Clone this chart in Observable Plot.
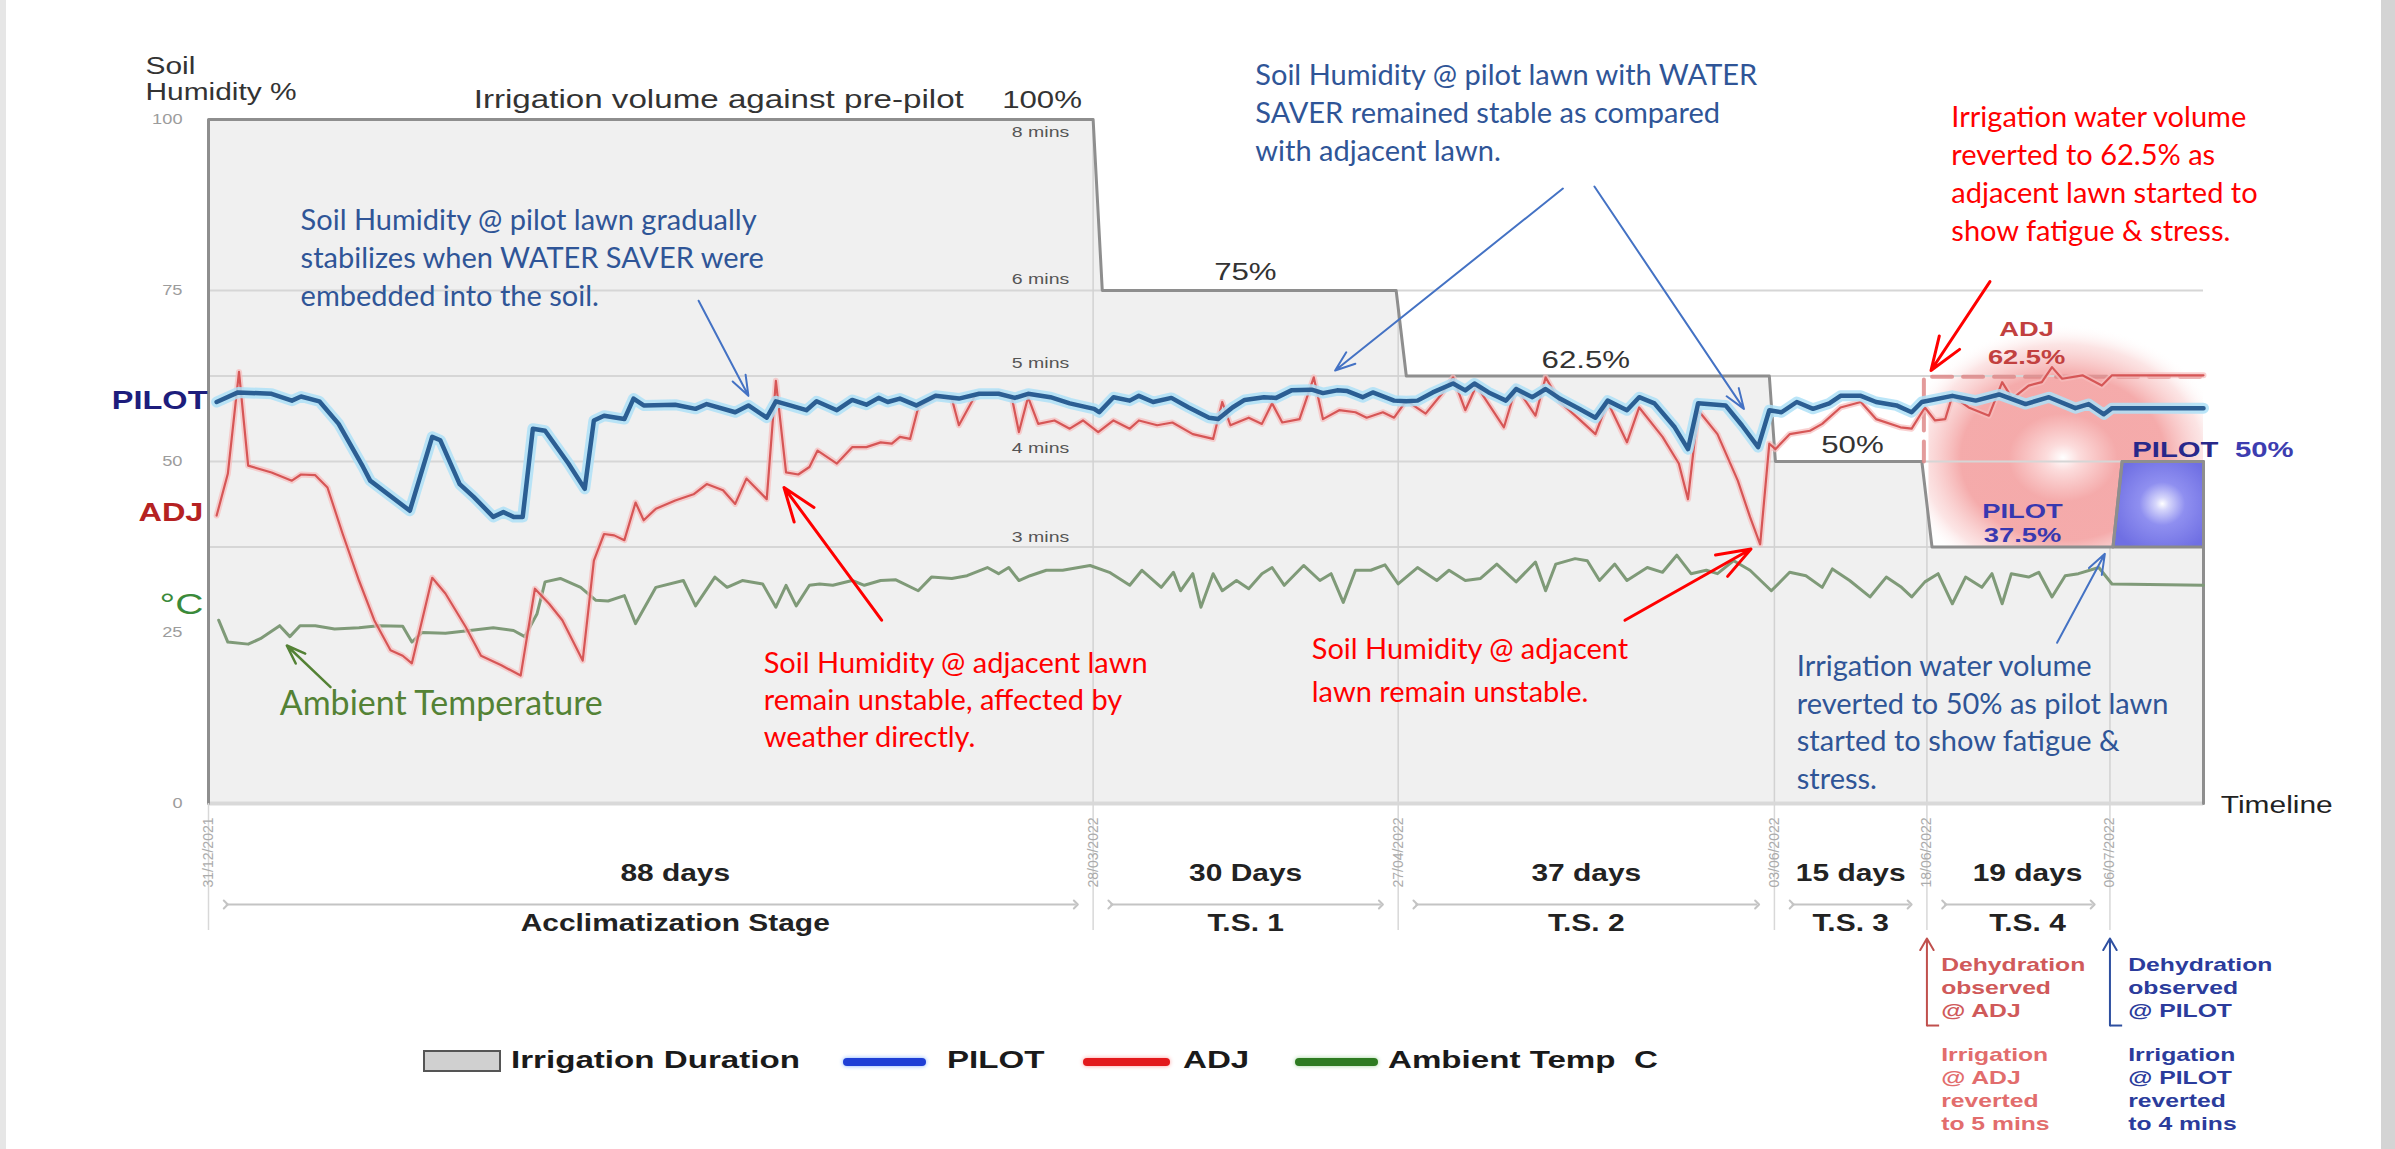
<!DOCTYPE html>
<html>
<head>
<meta charset="utf-8">
<script src="https://cdn.jsdelivr.net/npm/d3@7"></script>
<script src="https://cdn.jsdelivr.net/npm/@observablehq/plot@0.6"></script>
<style>
  html, body { margin: 0; padding: 0; background: #fff; }
  #wrap { position: relative; width: 2395px; height: 1149px; background: #fff; overflow: hidden;
          font-family: "Liberation Sans", Arial, sans-serif; }
  #edgeR { position: absolute; left: 2381px; top: 0; width: 14px; height: 1149px; background: #d4d4d4; }
  #edgeL { position: absolute; left: 0; top: 0; width: 6px; height: 1149px; background: #e6e6e6; }
  #chart { position: absolute; left: 0; top: 0; }
  .lg { position: absolute; top: 1046px; height: 28px; line-height: 28px; font-size: 24px; font-weight: bold;
        color: #1a1a1a; white-space: nowrap; transform: scaleX(1.38); transform-origin: left center; }
  .sw { position: absolute; }
</style>
</head>
<body>
<div id="wrap">
  <div id="edgeL"></div>
  <div id="chart"></div>
  <div class="sw" style="left:423px;top:1050px;width:78px;height:22px;background:#d0d0d0;border:2px solid #555;box-sizing:border-box;"></div>
  <div class="lg" style="left:511px;">Irrigation Duration</div>
  <div class="sw" style="left:843px;top:1058px;width:83px;height:8px;border-radius:4px;background:#1f3fd6;box-shadow:0 0 4px #7fb0ff;"></div>
  <div class="lg" style="left:947px;">PILOT</div>
  <div class="sw" style="left:1083px;top:1058px;width:87px;height:8px;border-radius:4px;background:#e3191c;box-shadow:0 0 4px #ff9a9a;"></div>
  <div class="lg" style="left:1183px;">ADJ</div>
  <div class="sw" style="left:1295px;top:1058px;width:83px;height:8px;border-radius:4px;background:#2e7b21;box-shadow:0 0 4px #9fd49a;"></div>
  <div class="lg" style="left:1388px;">Ambient Temp&nbsp; C</div>
  <div id="edgeR"></div>
</div>
<script>
// ---------------- DATA ----------------
// x = days since 31/12/2021, y = soil humidity % (temperature in °C on the same axis)
const tickDays   = [0, 87, 117, 154, 169, 187];
const tickLabels = ["31/12/2021", "28/03/2022", "27/04/2022", "03/06/2022", "18/06/2022", "06/07/2022"];
const yTicks = [0, 25, 50, 75, 100];
const gridPct = [75, 62.5, 50, 37.5];

// Irrigation duration step (outline)
const irrDay = [0, 0, 87, 87.9, 116.8, 117.8, 153.5, 154.1, 168.5, 169.5, 187.3, 188.2, 196.2, 196.2];
const irrPct = [0, 100, 100, 75, 75, 62.5, 62.5, 50, 50, 37.5, 37.5, 50, 50, 0];
// Pilot reverted-to-50% box
const boxDay = [187.3, 188.2, 196.2, 196.2, 187.3];
const boxPct = [37.5, 50, 50, 37.5, 37.5];
// ADJ reverted to 62.5% (dashed)
const adjIrrDay = [168.7, 168.7, 196.2];
const adjIrrPct = [50, 62.4, 62.4];

const pilotDay = [0.8,2.9,6.2,8.2,9.1,10.9,12.8,15.2,15.9,19.8,22.0,22.8,24.7,26.1,28.0,29.0,30.0,30.9,31.9,33.1,35.4,37.0,37.9,38.9,40.9,41.8,42.8,45.9,47.9,49.0,51.8,53.1,54.9,55.8,57.2,58.8,59.8,61.8,63.3,64.7,65.9,66.8,68.0,69.6,71.5,73.8,75.8,77.7,79.3,80.6,82.8,84.7,87.1,87.6,89.0,90.6,91.5,92.9,94.7,96.4,98.4,99.3,100.7,101.9,103.8,105.0,106.5,108.5,109.6,111.0,112.0,113.5,114.5,116.6,117.8,118.9,120.4,122.4,123.6,124.5,125.9,127.6,128.6,130.2,131.5,132.9,134.8,136.4,137.6,139.5,140.7,142.2,144.2,145.5,146.5,149.2,150.8,152.4,153.5,154.7,156.2,157.8,159.4,160.5,162.5,164.0,166.0,167.5,168.5,171.5,173.8,176.1,178.7,181.0,183.6,184.9,186.4,187.2,196.2];
const pilotVal = [58.7,60.1,59.9,58.9,59.5,58.8,55.5,49.2,47.2,42.8,53.6,53.1,46.7,44.8,41.9,42.6,41.9,41.9,54.8,54.5,49.7,46.0,56.0,56.7,56.2,59.2,58.2,58.3,57.7,58.4,57.2,58.2,56.4,58.8,58.2,57.5,58.8,57.5,59.0,58.3,59.3,58.7,59.2,58.2,59.6,59.2,59.9,59.9,59.3,59.9,59.4,58.5,57.7,57.2,59.4,58.9,59.6,58.7,59.3,57.9,56.4,56.2,57.9,59.0,59.4,59.3,60.4,60.5,60.0,60.4,60.3,59.4,60.1,58.9,58.8,58.9,60.1,61.4,60.4,61.4,60.1,58.9,60.6,59.4,60.6,59.2,57.7,56.4,58.9,57.5,59.4,58.5,55.0,51.8,58.5,58.2,55.3,52.1,57.5,57.2,58.7,57.7,58.5,59.6,59.6,58.7,58.2,57.2,58.7,59.6,58.9,59.8,58.4,59.4,57.8,58.4,56.9,57.8,57.8];

const adjDay = [0.8,1.9,3.0,3.9,6.2,8.2,9.1,10.5,11.7,13.2,14.8,16.3,17.9,19.1,20.0,22.0,23.3,25.3,26.8,28.8,30.7,32.1,33.5,34.8,36.8,37.9,38.9,39.9,40.9,42.0,42.8,44.0,45.9,47.7,49.0,50.6,51.8,52.9,54.9,55.8,56.8,58.0,59.1,59.9,61.8,63.3,64.7,66.1,67.2,68.0,69.0,69.8,71.5,73.1,73.8,75.5,77.7,79.0,79.7,80.6,81.6,83.2,84.7,86.0,87.5,89.0,90.6,91.5,93.3,94.8,96.8,98.8,99.7,100.5,102.3,103.6,104.6,105.6,107.3,108.7,109.6,111.2,112.8,113.9,115.5,116.6,117.8,119.7,121.3,122.4,123.6,124.7,127.4,128.6,130.5,131.5,132.9,134.8,136.4,137.6,139.5,140.7,143.0,144.6,145.5,146.5,148.4,150.4,151.6,152.6,153.5,154.1,155.5,157.5,158.7,160.5,162.5,164.0,166.4,167.5,168.8,169.8,170.8,171.5,173.1,175.1,176.4,177.4,179.0,180.3,181.3,182.3,184.3,186.2,187.2,196.2];
const adjVal = [42.1,48.2,63.1,49.4,48.4,47.2,48.1,48.0,46.2,39.4,32.6,26.8,22.4,21.6,20.5,33.0,30.7,25.8,21.6,20.2,18.7,31.4,29.2,26.8,20.9,35.5,39.4,39.2,38.5,44.0,41.4,43.1,44.3,45.2,46.7,45.8,43.8,47.5,44.5,61.8,48.4,48.1,49.2,51.6,49.7,52.1,52.1,52.8,52.6,53.6,53.3,57.9,59.5,59.2,55.3,59.9,60.1,59.4,54.3,59.4,55.5,56.0,54.8,56.0,54.3,56.0,54.8,56.0,55.3,55.7,54.0,53.3,58.7,55.3,56.4,55.5,58.5,55.7,56.2,62.3,56.2,57.5,57.2,56.4,57.2,56.4,58.9,57.0,59.9,62.3,57.5,61.1,55.0,60.9,56.7,62.3,58.7,56.2,54.0,58.7,52.8,57.9,53.6,49.7,44.5,57.5,54.0,47.2,41.9,37.9,52.6,51.8,54.0,54.5,55.5,57.9,58.7,56.2,55.0,54.8,57.9,56.0,56.2,59.6,57.9,56.7,61.6,59.2,61.1,61.6,63.8,62.1,62.6,61.1,62.6,62.6];

const tempDay = [1.0,1.9,3.9,5.1,7.0,8.0,9.0,10.5,12.4,14.8,16.7,19.1,20.0,21.0,23.3,25.7,28.0,30.0,31.1,32.3,33.1,34.6,36.6,38.1,39.3,40.9,42.0,44.0,46.7,47.9,49.8,51.0,52.5,54.5,55.8,56.8,57.8,59.1,60.1,61.4,63.3,64.5,66.1,67.6,69.8,71.1,73.1,74.6,76.6,77.7,78.7,79.7,80.8,82.4,84.0,86.7,88.6,90.6,91.8,93.7,94.9,95.6,96.8,97.6,98.8,99.7,101.1,102.3,103.6,104.6,105.8,107.7,109.3,110.4,111.6,112.8,114.3,115.7,117.0,118.9,120.8,122.0,123.6,125.1,126.7,128.6,130.5,131.5,132.5,134.4,135.6,136.8,138.3,139.5,141.5,143.0,144.4,145.8,147.3,148.4,150.0,151.6,153.7,155.5,157.1,158.7,159.7,161.4,163.4,165.0,166.5,167.5,168.8,170.1,171.5,172.8,174.4,175.4,176.4,177.3,179.0,180.0,181.3,182.6,183.9,185.9,187.2,196.2];
const tempVal = [26.8,23.6,23.3,24.1,26.0,24.4,26.0,26.0,25.5,25.7,26.0,25.9,23.6,25.0,24.9,25.3,25.7,25.3,24.4,27.7,32.4,32.9,31.6,29.7,29.6,30.4,26.3,31.6,32.6,28.9,33.1,31.6,32.6,32.1,28.7,31.9,28.9,31.9,32.1,31.9,32.6,31.9,32.6,32.7,31.1,33.1,32.9,33.3,34.5,33.6,34.5,32.6,33.3,34.1,34.1,34.8,33.8,31.9,34.1,31.6,33.8,31.1,33.6,28.7,33.6,31.1,32.6,31.4,33.6,34.5,31.9,34.8,32.6,33.6,29.4,34.1,34.1,34.9,32.1,34.5,32.6,34.1,32.6,32.9,35.0,32.4,35.3,31.1,35.0,35.8,35.5,32.6,35.0,32.6,34.5,33.8,36.3,33.6,34.1,33.6,35.5,34.1,31.1,33.8,33.3,31.6,34.3,32.6,30.2,33.1,31.6,30.2,32.4,33.6,29.2,33.1,31.6,33.6,29.2,33.6,33.1,33.8,30.2,33.3,33.6,34.5,32.1,31.9];

// Period labels (below the time axis)
const periodStart = [0, 87, 117, 154, 169];
const periodEnd   = [87, 117, 154, 169, 187];
const periodMid   = [45.9, 102, 135.5, 161.5, 178.9];
const periodDays  = ["88 days", "30 Days", "37 days", "15 days", "19 days"];
const periodStage = ["Acclimatization Stage", "T.S. 1", "T.S. 2", "T.S. 3", "T.S. 4"];

// Duration labels inside the chart
const minsLabels = ["8 mins", "6 mins", "5 mins", "4 mins", "3 mins"];
const minsPos    = [97.4, 76.0, 63.6, 51.2, 38.2];
const volLabels  = ["100%", "75%", "62.5%", "50%"];
const volDay     = [78.05, 98.9, 131.1, 158.6];
const volPos     = [101.75, 76.5, 63.7, 51.2];

// ---------------- BUILD ----------------
const rows = (xs, ys) => xs.map((d, i) => ({d, v: ys[i]}));
const irr = rows(irrDay, irrPct);
const box = rows(boxDay, boxPct);
const boxFill = rows(boxDay.slice(0, 3), boxPct.slice(0, 3));
const adjIrr = rows(adjIrrDay, adjIrrPct);
const pilot = rows(pilotDay, pilotVal);
const adj = rows(adjDay, adjVal);
const temp = rows(tempDay, tempVal);

function stepAt(day) {
  for (let i = 1; i < irr.length; i++) {
    const a = irr[i - 1], b = irr[i];
    if (day >= a.d && day <= b.d && b.d > a.d) return a.v + (b.v - a.v) * (day - a.d) / (b.d - a.d);
  }
  return 0;
}
const glow = [{x1: 169.2, x2: 196.2, y1: 37.5, y2: 70}];

const ARIAL = "'Liberation Sans', Arial, sans-serif";
const LATO = "Lato, 'Open Sans', sans-serif";

const callouts = [
  {d: 9.06,  v: 72.8, t: "Soil Humidity @ pilot lawn gradually\nstabilizes when WATER SAVER were\nembedded into the soil.", c: "#2f5597", lh: 1.31},
  {d: 102.95, v: 94.0, t: "Soil Humidity @ pilot lawn with WATER\nSAVER remained stable as compared\nwith adjacent lawn.", c: "#2f5597", lh: 1.31},
  {d: 171.4, v: 82.3, t: "Irrigation water volume\nreverted to 62.5% as\nadjacent lawn started to\nshow fatigue & stress.", c: "#ff0000", lh: 1.31},
  {d: 54.6,  v: 8.2,  t: "Soil Humidity @ adjacent lawn\nremain unstable, affected by\nweather directly.", c: "#ff0000", lh: 1.29},
  {d: 108.5, v: 14.8, t: "Soil Humidity @ adjacent\nlawn remain unstable.", c: "#ff0000", lh: 1.49},
  {d: 156.2, v: 2.05, t: "Irrigation water volume\nreverted to 50% as pilot lawn\nstarted to show fatigue &\nstress.", c: "#2f5597", lh: 1.31}
];
const blueArrows = [
  {x1: 48.2, y1: 73.5, x2: 53.1, y2: 59.6},
  {x1: 133.2, y1: 89.9, x2: 110.8, y2: 63.3},
  {x1: 136.3, y1: 90.2, x2: 151.0, y2: 57.7},
  {x1: 181.8, y1: 23.5, x2: 186.5, y2: 36.5}
];
const redArrows = [
  {x1: 66.2, y1: 26.8, x2: 56.6, y2: 46.2},
  {x1: 139.3, y1: 26.8, x2: 151.7, y2: 37.2},
  {x1: 175.2, y1: 76.3, x2: 169.4, y2: 63.3}
];
const greenArrows = [{x1: 12.0, y1: 17.0, x2: 7.7, y2: 23.1}];

const spans = periodStart.map((s, i) => ({x1: s + 1.7, x2: periodEnd[i] - 1.7}));
const periods = periodMid.map((m, i) => ({d: m, days: periodDays[i], stage: periodStage[i]}));

const T = (data, o) => Plot.text(data, Object.assign({lineAnchor: "bottom", fontFamily: ARIAL}, o));

const chart = Plot.plot({
  width: 2395, height: 1149,
  marginLeft: 208, marginRight: 192, marginTop: 119, marginBottom: 346,
  x: {domain: [0, 196.2]},
  y: {domain: [0, 100]},
  style: {background: "transparent", fontFamily: ARIAL, overflow: "visible"},
  marks: [
    Plot.areaY(irr, {x: "d", y: "v", fill: "#f0f0f0"}),
    Plot.rect(glow, {x1: "x1", x2: "x2", y1: "y1", y2: "y2", fill: "url(#pinkglow)"}),
    Plot.ruleY(gridPct, {x1: 0, x2: 196.2, stroke: "#d6d6d6", strokeWidth: 2}),
    Plot.ruleX(tickDays.slice(1), {y1: 0, y2: d => stepAt(d), stroke: "#d2d2d2", strokeWidth: 1.5}),
    Plot.ruleY([0], {x1: 0, x2: 196.2, stroke: "#d9d9d9", strokeWidth: 4}),
    Plot.areaY(boxFill, {x: "d", y1: 37.5, y2: "v", fill: "url(#bluebox)"}),
    Plot.line(box, {x: "d", y: "v", stroke: "#8a8a8a", strokeWidth: 3}),
    Plot.line(irr, {x: "d", y: "v", stroke: "#8e8e8e", strokeWidth: 3}),
    Plot.line(adjIrr, {x: "d", y: "v", stroke: "#de8a8a", strokeWidth: 4, strokeDasharray: "20,11", strokeOpacity: 0.85}),
    Plot.line(temp, {x: "d", y: "v", stroke: "#7f9a78", strokeWidth: 3}),
    Plot.line(adj, {x: "d", y: "v", stroke: "#f6bcbc", strokeWidth: 6, strokeOpacity: 0.7}),
    Plot.line(adj, {x: "d", y: "v", stroke: "#d65656", strokeWidth: 2.2}),
    Plot.line(pilot, {x: "d", y: "v", stroke: "#aee0f7", strokeWidth: 11, strokeOpacity: 0.85}),
    Plot.line(pilot, {x: "d", y: "v", stroke: "#2b5e93", strokeWidth: 4.5}),

    // axes
    Plot.axisY(yTicks, {tickSize: 0, tickPadding: 26, fontSize: 14, fill: "#9c9c9c", label: null}),
    Plot.axisX(tickDays, {tickSize: 127, tickFormat: () => "", stroke: "#d8d8d8", strokeWidth: 1.5, label: null}),
    Plot.axisX(tickDays, {tickSize: 0, tickPadding: 14, tickRotate: -90, fontSize: 14, fill: "#ababab", label: null,
                          tickFormat: d => tickLabels[tickDays.indexOf(d)]}),

    // axis titles and side labels
    T(["Soil\nHumidity %"], {x: -6.2, y: 102.78, text: d => d, textAnchor: "start", fontSize: 23, fill: "#333", lineHeight: 1.17}),
    T(["Irrigation volume against pre-pilot"], {x: 26.08, y: 101.75, text: d => d, textAnchor: "start", fontSize: 25.5, fill: "#333"}),
    T(volLabels, {x: (d, i) => volDay[i], y: (d, i) => volPos[i], text: d => d, textAnchor: "start", fontSize: 24, fill: "#333"}),
    T(minsLabels, {x: 84.65, y: (d, i) => minsPos[i], text: d => d, textAnchor: "end", fontSize: 15, fill: "#555"}),
    T(["PILOT"], {x: -0.1, y: 58.8, text: d => d, textAnchor: "end", lineAnchor: "middle", fontSize: 25, fontWeight: "bold", fill: "#1d1d7c"}),
    T(["ADJ"], {x: -0.5, y: 42.4, text: d => d, textAnchor: "end", lineAnchor: "middle", fontSize: 25, fontWeight: "bold", fill: "#b52222"}),
    T(["°C"], {x: -0.5, y: 29.1, text: d => d, textAnchor: "end", lineAnchor: "middle", fontSize: 30, fill: "#3a8a3a"}),
    T(["Timeline"], {x: 197.9, y: -1.46, text: d => d, textAnchor: "start", fontSize: 23, fill: "#222"}),

    // stage labels
    T(["ADJ\n62.5%"], {x: 178.8, y: 64.3, text: d => d, textAnchor: "middle", fontSize: 21, fontWeight: "bold", fill: "#c2403f", lineHeight: 1.33}),
    T(["PILOT\n37.5%"], {x: 178.4, y: 38.2, text: d => d, textAnchor: "middle", fontSize: 21, fontWeight: "bold", fill: "#3838b0", lineHeight: 1.14}),
    T(["PILOT"], {x: 189.2, y: 50.6, text: d => d, textAnchor: "start", fontSize: 22.5, fontWeight: "bold", fill: "#28288a"}),
    T(["50%"], {x: 199.3, y: 50.6, text: d => d, textAnchor: "start", fontSize: 22.5, fontWeight: "bold", fill: "#3d3db0"}),

    // period labels below the axis
    Plot.link(spans, {x1: "x1", x2: "x2", y1: -14.77, y2: -14.77, stroke: "#c4c4c4", strokeWidth: 2, markerStart: "arrow", markerEnd: "arrow"}),
    T(periods, {x: "d", y: -11.26, text: "days", textAnchor: "middle", fontSize: 23, fontWeight: "bold", fill: "#222"}),
    T(periods, {x: "d", y: -18.57, text: "stage", textAnchor: "middle", fontSize: 23, fontWeight: "bold", fill: "#222"}),

    // dehydration notes
    Plot.arrow([{x: 169}], {x1: "x", x2: "x", y1: -32.46, y2: -19.74, stroke: "#c0504d", strokeWidth: 2, headLength: 10}),
    Plot.link([{x: 169}], {x1: "x", x2: d => d.x + 1.2, y1: -32.46, y2: -32.46, stroke: "#c0504d", strokeWidth: 2}),
    Plot.arrow([{x: 187}], {x1: "x", x2: "x", y1: -32.46, y2: -19.74, stroke: "#2e4fa0", strokeWidth: 2, headLength: 10}),
    Plot.link([{x: 187}], {x1: "x", x2: d => d.x + 1.2, y1: -32.46, y2: -32.46, stroke: "#2e4fa0", strokeWidth: 2}),
    T(["Dehydration\nobserved\n@ ADJ"], {x: 170.4, y: -31.2, text: d => d, textAnchor: "start", fontSize: 19, fontWeight: "bold", fill: "#d05a5a", lineHeight: 1.2}),
    T(["Dehydration\nobserved\n@ PILOT"], {x: 188.8, y: -31.2, text: d => d, textAnchor: "start", fontSize: 19, fontWeight: "bold", fill: "#2b3c9c", lineHeight: 1.2}),
    T(["Irrigation\n@ ADJ\nreverted\nto 5 mins"], {x: 170.4, y: -47.8, text: d => d, textAnchor: "start", fontSize: 19, fontWeight: "bold", fill: "#e26d6d", lineHeight: 1.21}),
    T(["Irrigation\n@ PILOT\nreverted\nto 4 mins"], {x: 188.8, y: -47.8, text: d => d, textAnchor: "start", fontSize: 19, fontWeight: "bold", fill: "#2b3c9c", lineHeight: 1.21}),

    // callouts
    Plot.arrow(blueArrows, {x1: "x1", y1: "y1", x2: "x2", y2: "y2", stroke: "#4472c4", strokeWidth: 2, headLength: 16, headAngle: 40}),
    Plot.arrow(redArrows, {x1: "x1", y1: "y1", x2: "x2", y2: "y2", stroke: "#ff0000", strokeWidth: 3, headLength: 18, headAngle: 40}),
    Plot.arrow(greenArrows, {x1: "x1", y1: "y1", x2: "x2", y2: "y2", stroke: "#548235", strokeWidth: 2.5, headLength: 16, headAngle: 40}),
    ...callouts.map(c => Plot.text([c], {x: "d", y: "v", text: "t", fill: c.c, lineHeight: c.lh, lineAnchor: "bottom",
                                         textAnchor: "start", fontFamily: LATO, fontSize: 29})),
    Plot.text(["Ambient Temperature"], {x: 7.0, y: 12.9, text: d => d, textAnchor: "start", lineAnchor: "bottom",
                                        fontFamily: LATO, fontSize: 34, fill: "#548235"})
  ]
});

document.getElementById("chart").appendChild(chart);

// gradients
const svg = d3.select(chart);
const defs = svg.insert("defs", ":first-child");
const g1 = defs.append("radialGradient").attr("id", "pinkglow")
  .attr("cx", 0.49).attr("cy", 0.6).attr("r", 0.6).attr("fx", 0.49).attr("fy", 0.6);
[[0, "#ffffff", 1], [0.1, "#fcdcdc", 1], [0.33, "#f4a6a6", 0.95], [0.62, "#f39c9c", 0.85], [0.85, "#f8c4c4", 0.45], [1, "#ffffff", 0]]
  .forEach(([o, c, a]) => g1.append("stop").attr("offset", o).attr("stop-color", c).attr("stop-opacity", a));
const g2 = defs.append("radialGradient").attr("id", "bluebox")
  .attr("cx", 0.55).attr("cy", 0.5).attr("r", 0.6);
[[0, "#ffffff"], [0.12, "#d6d6fb"], [0.42, "#8f8ff0"], [1, "#6f6fe3"]]
  .forEach(([o, c]) => g2.append("stop").attr("offset", o).attr("stop-color", c));

// the source chart was pasted horizontally stretched: widen its Arial text
const STRETCH = 1.3;
chart.querySelectorAll("text").forEach(t => {
  const g = t.closest("g");
  const fam = (g && g.getAttribute("font-family")) || "";
  if (fam.includes("Lato")) return;
  if (g && (g.getAttribute("aria-label") || "").startsWith("x-axis")) return;
  const parts = t.querySelectorAll("tspan");
  const els = parts.length ? Array.from(parts) : [t];
  els.forEach(el => {
    const len = el.getComputedTextLength();
    if (len > 0) {
      el.setAttribute("textLength", (len * STRETCH).toFixed(1));
      el.setAttribute("lengthAdjust", "spacingAndGlyphs");
    }
  });
});
</script>
</body>
</html>
